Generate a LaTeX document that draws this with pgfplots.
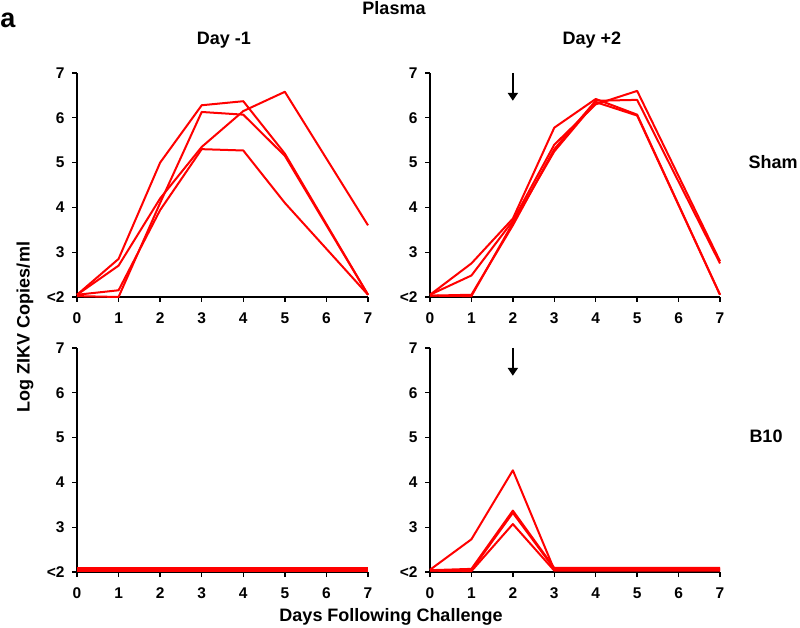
\documentclass[border=0pt]{standalone}
\usepackage{fontspec}
\setmainfont{Liberation Sans}
\usepackage{pgfplots}
\pgfplotsset{compat=1.18}
\usetikzlibrary{arrows.meta}

\pgfplotsset{
  panel/.style={
    scale only axis,
    axis lines=left,
    axis line style={line width=1.3pt, -},
    xmin=0, xmax=7, ymin=2, ymax=7,
    xtick={0,...,7}, ytick={2,...,7},
    yticklabels={<2,3,4,5,6,7},
    tick align=outside, major tick length=5pt,
    tick style={line width=1.3pt, black},
    ticklabel style={font=\fontsize{15.5}{16}\selectfont\bfseries},
    xticklabel style={yshift=-7pt},
    yticklabel style={xshift=-4pt},
    /pgf/number format/assume math mode=true,
    clip=false,
    no markers,
    every axis plot post/.append style={red, solid, line width=2pt, line join=round},
  },
}

\begin{document}
\begin{tikzpicture}
\useasboundingbox (0,0) rectangle (800pt,627pt);

% Top-left: Sham, Day -1
\begin{axis}[panel, at={(77pt,330pt)}, anchor=south west, width=291pt, height=224pt]
\addplot coordinates {(0,2.05) (1,2.85) (2,5.0) (3,6.28) (4,6.37) (5,5.2) (7,2.05)};
\addplot coordinates {(0,2.05) (1,2.7) (2,4.2) (3,5.35) (4,6.15) (5,6.58) (7,3.6)};
\addplot coordinates {(0,2.02) (1,2.0) (2,4.1) (3,6.13) (4,6.07) (5,5.15) (7,2.05)};
\addplot coordinates {(0,2.05) (1,2.15) (2,3.94) (3,5.3) (4,5.27) (5,4.1) (7,2.05)};
\end{axis}

% Top-right: Sham, Day +2
\begin{axis}[panel, at={(430pt,330pt)}, anchor=south west, width=290pt, height=224pt]
\addplot coordinates {(0,2.05) (1,2.75) (2,3.75) (3,5.78) (4,6.42) (5,6.07) (7,2.05)};
\addplot coordinates {(0,2.05) (1,2.48) (2,3.7) (3,5.4) (4,6.3) (5,6.6) (7,2.8)};
\addplot coordinates {(0,2.03) (1,2.05) (2,3.6) (3,5.3) (4,6.38) (5,6.4) (7,2.75)};
\addplot coordinates {(0,2.03) (1,2.02) (2,3.65) (3,5.25) (4,6.35) (5,6.05) (7,2.05)};
\draw[black, line width=2.4pt, -{Triangle[width=10pt,length=8pt]}] (axis cs:2,7) -- (axis cs:2,6.38);
\end{axis}

% Bottom-left: B10, Day -1
\begin{axis}[panel, at={(77pt,55pt)}, anchor=south west, width=291pt, height=224pt]
\addplot coordinates {(0,2.03) (1,2.03) (2,2.03) (3,2.03) (4,2.03) (5,2.03) (6,2.03) (7,2.03)};
\addplot coordinates {(0,2.05) (1,2.05) (2,2.05) (3,2.05) (4,2.05) (5,2.05) (6,2.05) (7,2.05)};
\addplot coordinates {(0,2.07) (1,2.07) (2,2.07) (3,2.07) (4,2.07) (5,2.07) (6,2.07) (7,2.07)};
\addplot coordinates {(0,2.09) (1,2.09) (2,2.09) (3,2.09) (4,2.09) (5,2.09) (6,2.09) (7,2.09)};
\end{axis}

% Bottom-right: B10, Day +2
\begin{axis}[panel, at={(430pt,55pt)}, anchor=south west, width=290pt, height=224pt]
\addplot coordinates {(0,2.05) (1,2.73) (2,4.27) (3,2.05) (4,2.05) (5,2.05) (6,2.05) (7,2.05)};
\addplot coordinates {(0,2.04) (1,2.07) (2,3.37) (3,2.09) (4,2.09) (5,2.09) (6,2.09) (7,2.09)};
\addplot coordinates {(0,2.03) (1,2.04) (2,3.32) (3,2.07) (4,2.07) (5,2.07) (6,2.07) (7,2.07)};
\addplot coordinates {(0,2.03) (1,2.02) (2,3.07) (3,2.03) (4,2.03) (5,2.03) (6,2.03) (7,2.03)};
\draw[black, line width=2.4pt, -{Triangle[width=10pt,length=8pt]}] (axis cs:2,7) -- (axis cs:2,6.38);
\end{axis}

\begin{scope}[every node/.style={font=\fontsize{18}{20}\selectfont\bfseries, inner sep=0pt}]
\node at (394pt,619pt) {Plasma};
\node at (224pt,587pt) {Day -1};
\node at (592pt,587pt) {Day +2};
\node at (773pt,465pt) {Sham};
\node at (766pt,191pt) {B10};
\node at (391pt,10pt) {Days Following Challenge};
\node[rotate=90] at (25pt,300pt) {Log ZIKV Copies/ml};
\node[font=\fontsize{27}{28}\selectfont\bfseries] at (8pt,607pt) {a};
\end{scope}
\end{tikzpicture}
\end{document}
